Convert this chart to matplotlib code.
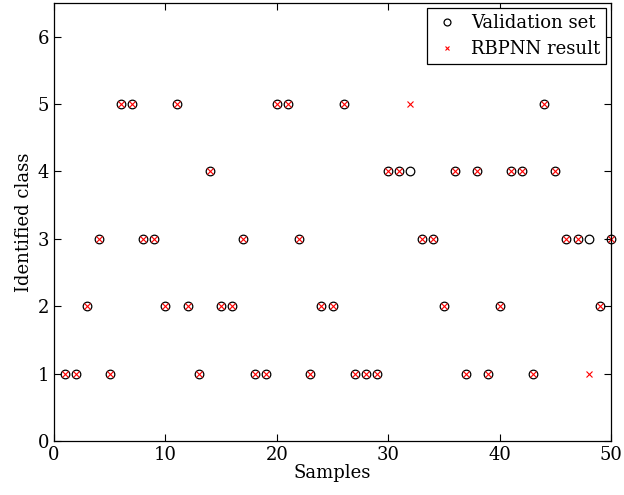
import numpy as np
import matplotlib.pyplot as plt

plt.rcParams['font.family'] = ['DejaVu Serif']
plt.rcParams['mathtext.fontset'] = 'dejavuserif'

# Sample index and identified classes
samples = np.arange(1, 51)
validation = [1, 1, 2, 3, 1, 5, 5, 3, 3, 2,
              5, 2, 1, 4, 2, 2, 3, 1, 1, 5,
              5, 3, 1, 2, 2, 5, 1, 1, 1, 4,
              4, 4, 3, 3, 2, 4, 1, 4, 1, 2,
              4, 4, 1, 5, 4, 3, 3, 3, 2, 3]
rbpnn = [1, 1, 2, 3, 1, 5, 5, 3, 3, 2,
         5, 2, 1, 4, 2, 2, 3, 1, 1, 5,
         5, 3, 1, 2, 2, 5, 1, 1, 1, 4,
         4, 5, 3, 3, 2, 4, 1, 4, 1, 2,
         4, 4, 1, 5, 4, 3, 3, 1, 2, 3]

fig = plt.figure(figsize=(6.24, 4.95), dpi=100)
ax = fig.add_axes([54/624, 54/495, 557/624, 438/495])

ax.plot(samples, validation, 'o', mfc='none', mec='black', mew=0.9,
        ms=6.2, label='Validation set', clip_on=False)
ax.plot(samples, rbpnn, 'x', color='red', mew=0.8, ms=4.3,
        label='RBPNN result', clip_on=False)

ax.set_xlim(0, 50)
ax.set_ylim(0, 6.5)
ax.set_xticks([0, 10, 20, 30, 40, 50])
ax.set_yticks([0, 1, 2, 3, 4, 5, 6])
ax.tick_params(direction='in', top=True, right=True, labelsize=13,
               length=5, width=0.8)
for s in ax.spines.values():
    s.set_linewidth(0.9)

ax.set_xlabel('Samples', fontsize=13, labelpad=0)
ax.set_ylabel('Identified class', fontsize=13, labelpad=3)

leg = ax.legend(loc='upper right', fontsize=13, fancybox=False,
                edgecolor='black', framealpha=1, borderpad=0.35,
                handletextpad=0.5, labelspacing=0.45, borderaxespad=0.25,
                markerscale=0.8, handlelength=1.6)
leg.get_frame().set_linewidth(0.9)

fig.savefig('out.png', dpi=100)
